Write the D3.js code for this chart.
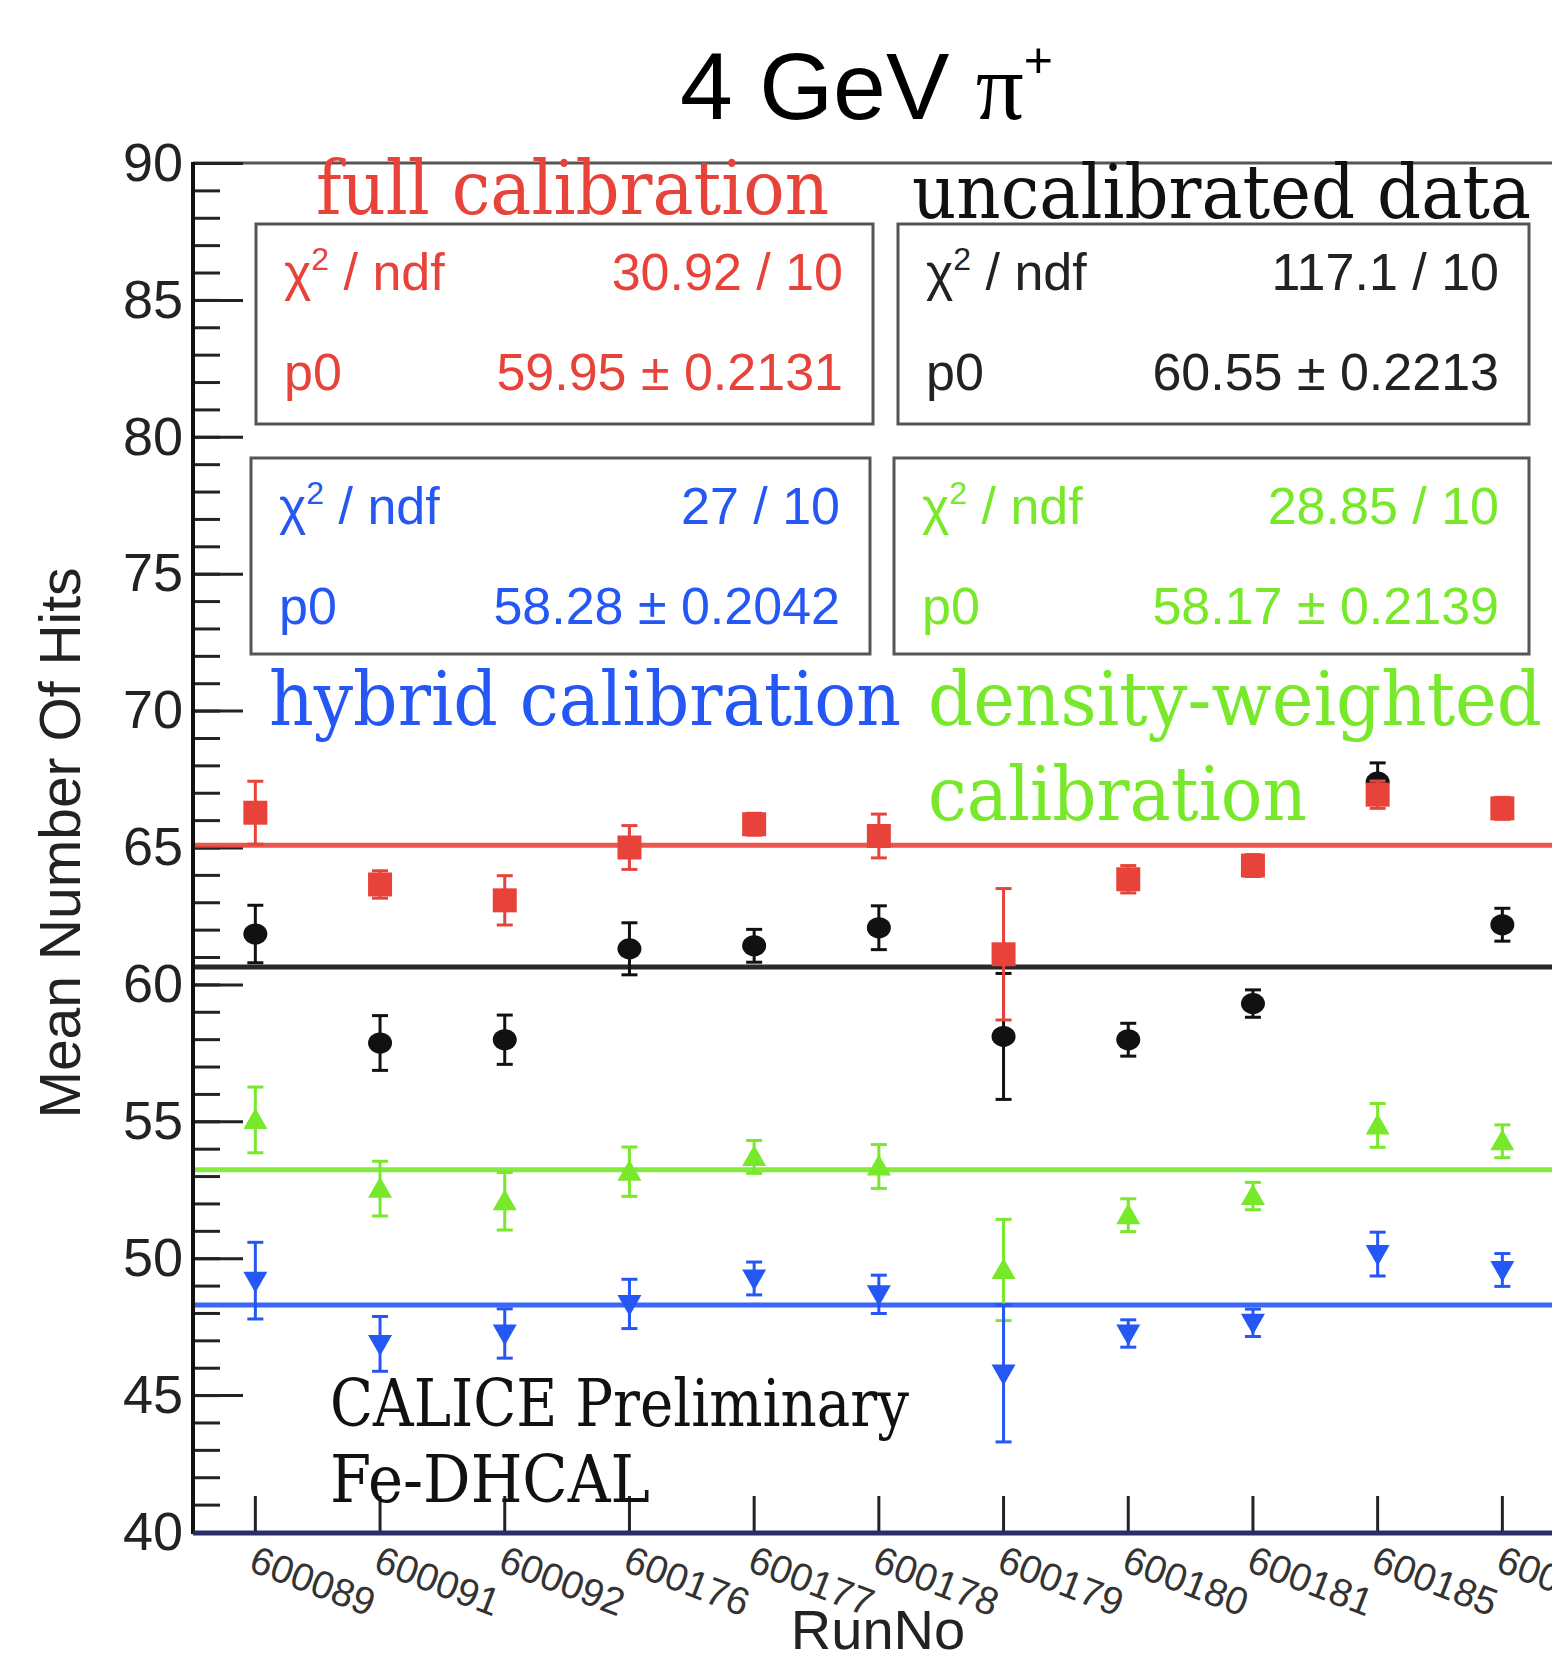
<!DOCTYPE html>
<html>
<head>
<meta charset="utf-8">
<script src="https://cdn.jsdelivr.net/npm/d3@7"></script>
<style>
  html, body { margin: 0; padding: 0; background: #fff; overflow: hidden; }
  svg { display: block; }
</style>
</head>
<body>
<div id="graph"></div>
<script>
// run numbers on the x axis
var runs = ['600089', '600091', '600092', '600176', '600177', '600178', '600179', '600180', '600181', '600185', '600186']

// mean number of hits per run, one array per calibration
var uncal      = [61.84, 57.86, 57.98, 61.30, 61.41, 62.07, 58.10, 57.98, 59.30, 67.39, 62.18]
var uncalErr   = [1.05, 1.0, 0.9, 0.95, 0.6, 0.8, 2.3, 0.6, 0.5, 0.7, 0.6]
var fullCal    = [66.27, 63.65, 63.07, 65.00, 65.85, 65.42, 61.10, 63.84, 64.34, 66.93, 66.43]
var fullCalErr = [1.15, 0.5, 0.9, 0.8, 0.4, 0.8, 2.4, 0.5, 0.4, 0.5, 0.4]
var density    = [55.05, 52.54, 52.08, 53.16, 53.70, 53.35, 49.57, 51.57, 52.27, 54.85, 54.27]
var densityErr = [1.2, 1.0, 1.05, 0.9, 0.6, 0.8, 1.85, 0.6, 0.5, 0.8, 0.6]
var hybrid     = [49.18, 46.87, 47.25, 48.33, 49.26, 48.68, 45.79, 47.25, 47.64, 50.15, 49.57]
var hybridErr  = [1.4, 1.0, 0.9, 0.9, 0.6, 0.7, 2.5, 0.5, 0.5, 0.8, 0.6]

// constant fit levels as drawn
var fitLevels = [60.64, 65.08, 53.23, 48.29]

// fit results shown in the stat boxes
var statNames  = ['full calibration', 'uncalibrated data', 'hybrid calibration', 'density-weighted']
var statChi2   = ['30.92 / 10', '117.1 / 10', '27 / 10', '28.85 / 10']
var statP0     = ['59.95 \u00b1 0.2131', '60.55 \u00b1 0.2213', '58.28 \u00b1 0.2042', '58.17 \u00b1 0.2139']

var yTicks = [40, 45, 50, 55, 60, 65, 70, 75, 80, 85, 90]

var w = 1552
var h = 1653
var plotLeft = 193
var plotTop = 163
var plotBottom = 1532
var binW = 124.7

var red = '#e8433b'
var blue = '#2557f5'
var green = '#77e82a'
var black = '#111'

var svg = d3.select('#graph')
	.append('svg')
	.attr('width', w)
	.attr('height', h)
	.style('font-family', 'Liberation Sans, Arial, sans-serif')

var x = d3.scaleBand()
	.domain(runs)
	.range([plotLeft, plotLeft + binW * runs.length])

var y = d3.scaleLinear()
	.domain([40, 90])
	.range([plotBottom, plotTop])

// title
var title = svg.append('text')
	.attr('x', 680)
	.attr('y', 119)
	.attr('font-size', 95)
	.attr('fill', '#000')
title.append('tspan').text('4 GeV ')
title.append('tspan').attr('font-family', 'Liberation Serif, serif').text('\u03c0')
title.append('tspan').attr('font-size', 50).attr('dy', -42).text('+')

// frame
svg.append('line')
	.attr('x1', plotLeft).attr('x2', w)
	.attr('y1', plotTop).attr('y2', plotTop)
	.attr('stroke', '#555').attr('stroke-width', 3)

// y axis minor and major ticks
var minor = d3.range(40, 91, 1)
svg.append('g')
	.attr('transform', 'translate(' + plotLeft + ',0)')
	.call(d3.axisLeft(y).tickValues(minor).tickSize(-27).tickFormat(''))
	.call(g => g.select('.domain').remove())
	.selectAll('line').attr('stroke', '#222').attr('stroke-width', 3)

var yAxisGroup = svg.append('g')
	.attr('transform', 'translate(' + plotLeft + ',0)')
	.call(d3.axisLeft(y).tickValues(yTicks).tickSize(-50).tickPadding(10))
yAxisGroup.select('.domain').remove()
yAxisGroup.selectAll('line').attr('stroke', '#222').attr('stroke-width', 3)
yAxisGroup.selectAll('text')
	.attr('font-size', 54)
	.attr('font-family', 'Liberation Sans, Arial, sans-serif')
	.attr('fill', '#222')

svg.append('line')
	.attr('x1', plotLeft).attr('x2', plotLeft)
	.attr('y1', plotTop - 1).attr('y2', plotBottom + 2)
	.attr('stroke', '#111').attr('stroke-width', 4)

// x axis
var xAxisGroup = svg.append('g')
	.attr('transform', 'translate(0,' + plotBottom + ')')
	.call(d3.axisBottom(x).tickSize(-36).tickPadding(0))
xAxisGroup.select('.domain').remove()
xAxisGroup.selectAll('line').attr('stroke', '#222').attr('stroke-width', 3)
xAxisGroup.selectAll('text')
	.attr('font-size', 39)
	.attr('font-family', 'Liberation Sans, Arial, sans-serif')
	.attr('fill', '#333')
	.attr('text-anchor', 'start')
	.attr('dy', null)
	.attr('y', 0)
	.attr('transform', 'translate(2,12) rotate(21)')
	.attr('dominant-baseline', 'hanging')

svg.append('line')
	.attr('x1', plotLeft).attr('x2', w)
	.attr('y1', plotBottom + 1).attr('y2', plotBottom + 1)
	.attr('stroke', '#2c2c66').attr('stroke-width', 5)

// axis titles
svg.append('text')
	.attr('transform', 'translate(80,843) rotate(-90)')
	.attr('text-anchor', 'middle')
	.attr('font-size', 57)
	.attr('fill', '#222')
	.text('Mean Number Of Hits')

svg.append('text')
	.attr('x', 878)
	.attr('y', 1649)
	.attr('text-anchor', 'middle')
	.attr('font-size', 56)
	.attr('fill', '#222')
	.text('RunNo')

// fit lines
var fitColors = [black, red, green, blue]
svg.selectAll('.fit')
	.data(fitLevels)
	.enter()
	.append('line')
	.attr('class', 'fit')
	.attr('x1', plotLeft + 2).attr('x2', x.range()[1])
	.attr('y1', d => y(d)).attr('y2', d => y(d))
	.attr('stroke', (d, i) => fitColors[i])
	.attr('stroke-width', 5)
	.attr('opacity', 0.9)

// points with error bars
function drawSeries(vals, errs, color, shape) {
	var g = svg.append('g')
	var pts = vals.map((v, i) => ({ run: runs[i], v: v, e: errs[i] }))
	var cx = d => x(d.run) + x.bandwidth() / 2

	g.selectAll('.bar').data(pts).enter().append('line')
		.attr('x1', cx).attr('x2', cx)
		.attr('y1', d => y(d.v - d.e)).attr('y2', d => y(d.v + d.e))
		.attr('stroke', color).attr('stroke-width', 3)
	;[-1, 1].forEach(function(s) {
		g.selectAll('.cap' + s).data(pts).enter().append('line')
			.attr('x1', d => cx(d) - 8).attr('x2', d => cx(d) + 8)
			.attr('y1', d => y(d.v + s * d.e)).attr('y2', d => y(d.v + s * d.e))
			.attr('stroke', color).attr('stroke-width', 3)
	})

	var sym = {
		square: 'M-12,-12H12V12H-12Z',
		circle: 'M-12,0A12,10.5 0 1,0 12,0A12,10.5 0 1,0 -12,0Z',
		up: 'M0,-12L12,9H-12Z',
		down: 'M0,12L12,-9H-12Z'
	}
	g.selectAll('.mk').data(pts).enter().append('path')
		.attr('d', sym[shape])
		.attr('transform', d => 'translate(' + cx(d) + ',' + y(d.v) + ')')
		.attr('fill', color)
}

drawSeries(uncal, uncalErr, black, 'circle')
drawSeries(fullCal, fullCalErr, red, 'square')
drawSeries(density, densityErr, green, 'up')
drawSeries(hybrid, hybridErr, blue, 'down')

// stat boxes
var boxes = [
	{ x: 256, y: 224, w: 617, h: 200, color: red },
	{ x: 898, y: 224, w: 631, h: 200, color: '#222' },
	{ x: 251, y: 458, w: 619, h: 196, color: blue },
	{ x: 894, y: 458, w: 635, h: 196, color: green }
]
boxes.forEach(function(b, i) {
	svg.append('rect')
		.attr('x', b.x).attr('y', b.y)
		.attr('width', b.w).attr('height', b.h)
		.attr('fill', '#fff')
		.attr('stroke', '#555').attr('stroke-width', 3)

	var lab = svg.append('text')
		.attr('x', b.x + 28).attr('y', b.y + 66)
		.attr('font-size', 52).attr('fill', b.color)
	lab.append('tspan').text('\u03c7')
	lab.append('tspan').attr('font-size', 32).attr('dy', -20).text('2')
	lab.append('tspan').attr('dy', 20).text(' / ndf')

	svg.append('text')
		.attr('x', b.x + 28).attr('y', b.y + 166)
		.attr('font-size', 52).attr('fill', b.color)
		.text('p0')

	svg.append('text')
		.attr('x', b.x + b.w - 30).attr('y', b.y + 66)
		.attr('text-anchor', 'end')
		.attr('font-size', 52).attr('fill', b.color)
		.text(statChi2[i])

	svg.append('text')
		.attr('x', b.x + b.w - 30).attr('y', b.y + 166)
		.attr('text-anchor', 'end')
		.attr('font-size', 52).attr('fill', b.color)
		.text(statP0[i])
})

// serif labels
var labels = [
	{ t: statNames[0], x: 316, y: 214, len: 513, color: red },
	{ t: statNames[1], x: 912, y: 218, len: 619, color: black },
	{ t: statNames[2], x: 269, y: 725, len: 632, color: blue },
	{ t: statNames[3], x: 928, y: 725, len: 614, color: green },
	{ t: 'calibration', x: 928, y: 820, len: 379, color: green },
	{ t: 'CALICE Preliminary', x: 330, y: 1426, len: 579, color: black },
	{ t: 'Fe-DHCAL', x: 330, y: 1502, len: 320, color: black }
]
svg.selectAll('.lab')
	.data(labels)
	.enter()
	.append('text')
	.attr('x', d => d.x)
	.attr('y', d => d.y)
	.attr('font-family', 'DejaVu Serif, Liberation Serif, serif')
	.attr('font-size', d => d.t == 'CALICE Preliminary' || d.t == 'Fe-DHCAL' ? 66 : 74)
	.attr('fill', d => d.color)
	.attr('textLength', d => d.len)
	.attr('lengthAdjust', 'spacingAndGlyphs')
	.text(d => d.t)
</script>
</body>
</html>
